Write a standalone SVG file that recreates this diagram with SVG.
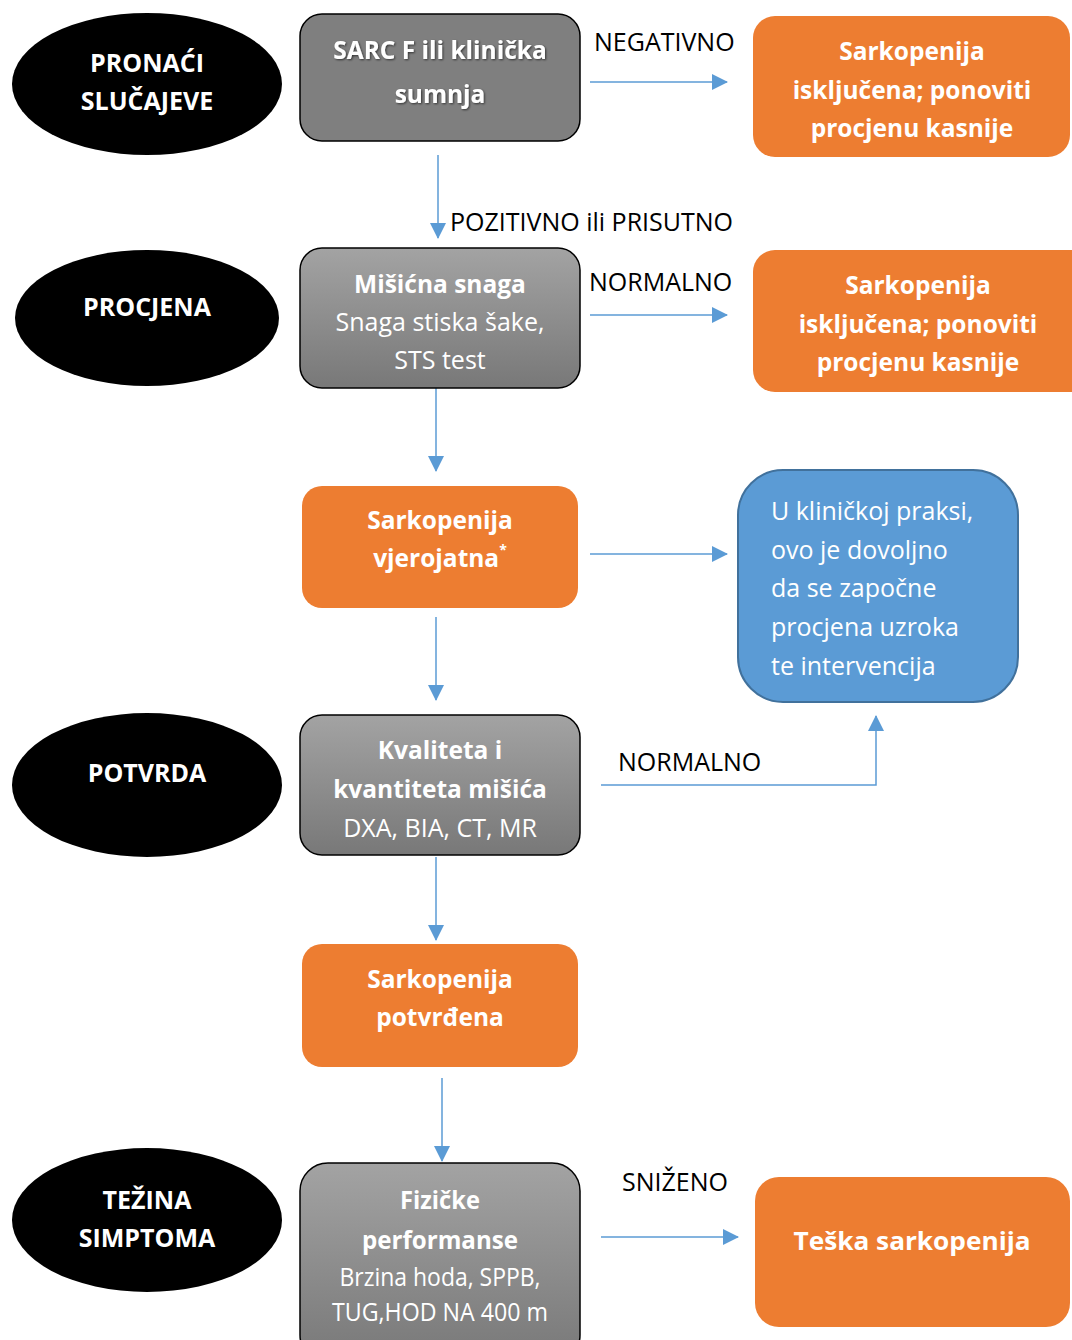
<svg xmlns="http://www.w3.org/2000/svg" width="1072" height="1340" viewBox="0 0 1072 1340">
<style>
text{font-family:"Open Sans","Liberation Sans",sans-serif;font-size:25px;}
.w{fill:#ffffff;}
.b{font-weight:bold;font-size:24.5px;}
.e{font-weight:bold;font-size:25px;}
.k{fill:#000000;}
.c{text-anchor:middle;}
.ell{fill:#000000;}
.gray{stroke:#000000;stroke-width:1.5;}
.org{fill:#ed7d31;}
.blue{fill:#5b9bd5;stroke:#41719c;stroke-width:2;}
.con{stroke:#5b9bd5;stroke-width:1.5;fill:none;marker-end:url(#ah);}
</style>
<defs>
<marker id="ah" viewBox="0 0 16 16" refX="15" refY="8" markerWidth="16" markerHeight="16" markerUnits="userSpaceOnUse" orient="auto">
<path d="M0,0 L16,8 L0,16 z" fill="#5b9bd5"/>
</marker>
<linearGradient id="gg" x1="0" y1="0" x2="0" y2="1">
<stop offset="0" stop-color="#a3a3a3"/>
<stop offset="1" stop-color="#787878"/>
</linearGradient>
<filter id="sh" x="-10%" y="-10%" width="120%" height="130%">
<feDropShadow dx="1" dy="1" stdDeviation="0.8" flood-color="#000" flood-opacity="0.6"/>
</filter>
</defs>
<rect width="1072" height="1340" fill="#ffffff"/>

<g id="connectors">
<path class="con" d="M590,82 H727"/>
<path class="con" d="M438,155 V238"/>
<path class="con" d="M590,315 H727"/>
<path class="con" d="M436,388 V471"/>
<path class="con" d="M590,554 H727"/>
<path class="con" d="M436,617 V700"/>
<path class="con" d="M601,785 H876 V716"/>
<path class="con" d="M436,857 V940"/>
<path class="con" d="M442,1078 V1161"/>
<path class="con" d="M601,1237 H738"/>
<text class="k" x="594" y="51">NEGATIVNO</text>
<text class="k" x="450" y="231">POZITIVNO ili PRISUTNO</text>
<text class="k" x="589" y="291">NORMALNO</text>
<text class="k" x="618" y="771">NORMALNO</text>
<text class="k" x="622" y="1191">SNIŽENO</text>
</g>

<g id="stage1">
<ellipse class="ell" cx="147" cy="84" rx="135" ry="71"/>
<text class="w e c" x="147" y="72">PRONAĆI</text>
<text class="w e c" x="147" y="110">SLUČAJEVE</text>
</g>
<g id="stage2">
<ellipse class="ell" cx="147" cy="318" rx="132" ry="68"/>
<text class="w e c" x="147" y="316">PROCJENA</text>
</g>
<g id="stage3">
<ellipse class="ell" cx="147" cy="785" rx="135" ry="72"/>
<text class="w e c" x="147" y="782">POTVRDA</text>
</g>
<g id="stage4">
<ellipse class="ell" cx="147" cy="1220" rx="135" ry="72"/>
<text class="w e c" x="147" y="1209">TEŽINA</text>
<text class="w e c" x="147" y="1247">SIMPTOMA</text>
</g>

<g id="sarcf">
<rect class="gray" x="300" y="14" width="280" height="127" rx="22" fill="#7f7f7f"/>
<g filter="url(#sh)">
<text class="w b c" x="440" y="59">SARC F ili klinička</text>
<text class="w b c" x="440" y="103">sumnja</text>
</g>
</g>
<g id="excluded1">
<rect class="org" x="753" y="16" width="317" height="141" rx="22"/>
<text class="w b c" x="912" y="60">Sarkopenija</text>
<text class="w b c" x="912" y="99">isključena; ponoviti</text>
<text class="w b c" x="912" y="137">procjenu kasnije</text>
</g>
<g id="strength">
<rect class="gray" x="300" y="248" width="280" height="140" rx="22" fill="url(#gg)"/>
<text class="w b c" x="440" y="293">Mišićna snaga</text>
<text class="w c" x="440" y="331">Snaga stiska šake,</text>
<text class="w c" x="440" y="369">STS test</text>
</g>
<g id="excluded2">
<rect class="org" x="753" y="250" width="340" height="142" rx="22"/>
<text class="w b c" x="918" y="294">Sarkopenija</text>
<text class="w b c" x="918" y="333">isključena; ponoviti</text>
<text class="w b c" x="918" y="371">procjenu kasnije</text>
</g>
<g id="probable">
<rect class="org" x="302" y="486" width="276" height="122" rx="20"/>
<text class="w b c" x="440" y="529">Sarkopenija</text>
<text class="w b c" x="440" y="567">vjerojatna<tspan font-size="14" dy="-12">*</tspan></text>
</g>
<g id="clinical">
<rect class="blue" x="738" y="470" width="280" height="232" rx="45"/>
<text class="w" x="771" y="520">U kliničkoj praksi,</text>
<text class="w" x="771" y="559">ovo je dovoljno</text>
<text class="w" x="771" y="597">da se započne</text>
<text class="w" x="771" y="636">procjena uzroka</text>
<text class="w" x="771" y="675">te intervencija</text>
</g>
<g id="quantity">
<rect class="gray" x="300" y="715" width="280" height="140" rx="22" fill="url(#gg)"/>
<text class="w b c" x="440" y="759">Kvaliteta i</text>
<text class="w b c" x="440" y="798">kvantiteta mišića</text>
<text class="w c" x="440" y="837">DXA, BIA, CT, MR</text>
</g>
<g id="confirmed">
<rect class="org" x="302" y="944" width="276" height="123" rx="20"/>
<text class="w b c" x="440" y="988">Sarkopenija</text>
<text class="w b c" x="440" y="1026">potvrđena</text>
</g>
<g id="performance">
<rect class="gray" x="300" y="1163" width="280" height="200" rx="28" fill="url(#gg)"/>
<text class="w b c" x="440" y="1209" font-size="27" textLength="80" lengthAdjust="spacingAndGlyphs">Fizičke</text>
<text class="w b c" x="440" y="1249" font-size="27" textLength="156" lengthAdjust="spacingAndGlyphs">performanse</text>
<text class="w c" x="440" y="1286" textLength="201" lengthAdjust="spacingAndGlyphs">Brzina hoda, SPPB,</text>
<text class="w c" x="440" y="1321" textLength="216" lengthAdjust="spacingAndGlyphs">TUG,HOD NA 400 m</text>
</g>
<g id="severe">
<rect class="org" x="755" y="1177" width="315" height="150" rx="24"/>
<text class="w b c" x="912" y="1250" font-size="27" textLength="237" lengthAdjust="spacingAndGlyphs">Teška sarkopenija</text>
</g>
</svg>
